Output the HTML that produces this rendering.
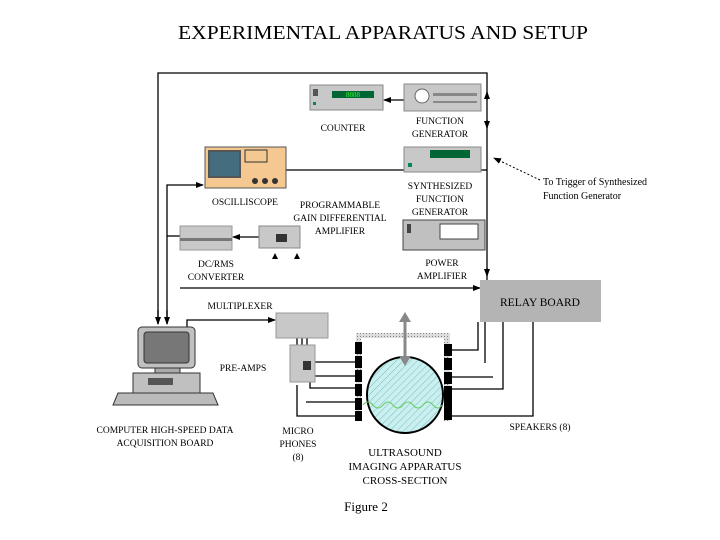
<!DOCTYPE html>
<html><head><meta charset="utf-8"><style>
html,body{margin:0;padding:0;background:#fff;}
svg{display:block;}
text{font-family:"Liberation Serif",serif;fill:#000;}
.s{font-size:9.5px;}
</style></head><body>
<svg width="720" height="540" viewBox="0 0 720 540" xmlns="http://www.w3.org/2000/svg">
<defs>
<marker id="a" markerWidth="8" markerHeight="8" refX="7" refY="4" orient="auto" markerUnits="userSpaceOnUse"><path d="M0,1 L8,4 L0,7 z" fill="#000"/></marker>
<pattern id="h" width="5" height="5" patternUnits="userSpaceOnUse" patternTransform="rotate(45)"><rect width="5" height="5" fill="#c8f0f0"/><line x1="0" y1="0" x2="0" y2="5" stroke="#7aa" stroke-width="0.8"/></pattern>
<pattern id="st" width="3" height="3" patternUnits="userSpaceOnUse"><rect width="3" height="3" fill="#ddd"/><rect width="1" height="1" fill="#888"/></pattern>
</defs>
<text x="383" y="39" text-anchor="middle" font-size="20" textLength="410" lengthAdjust="spacingAndGlyphs">EXPERIMENTAL APPARATUS AND SETUP</text>

<g stroke="#000" stroke-width="1.3" fill="none">
<polyline points="158,324 158,73 487,73 487,290"/>
<polyline points="167,324 167,185 203,185" marker-end="url(#a)"/>
<line x1="167" y1="236" x2="180" y2="236"/>
<line x1="404" y1="100" x2="384" y2="100" marker-end="url(#a)"/>
<line x1="286" y1="170" x2="404" y2="170"/>
<line x1="487" y1="170" x2="481" y2="170"/>
<line x1="259" y1="237" x2="233" y2="237" marker-end="url(#a)"/>
<line x1="180" y1="288" x2="480" y2="288" marker-end="url(#a)"/>
<line x1="158" y1="310" x2="158" y2="324" marker-end="url(#a)"/>
<line x1="167" y1="310" x2="167" y2="324" marker-end="url(#a)"/>
<polyline points="187,327 187,320 275,320" marker-end="url(#a)"/>
<line x1="487" y1="100" x2="487" y2="92" marker-end="url(#a)"/>
<line x1="487" y1="120" x2="487" y2="128" marker-end="url(#a)"/>
<line x1="487" y1="268" x2="487" y2="276" marker-end="url(#a)"/>
<line x1="297" y1="338" x2="297" y2="345"/><line x1="302" y1="338" x2="302" y2="345"/><line x1="307" y1="338" x2="307" y2="345"/>
<line x1="315" y1="362" x2="356" y2="362"/>
<line x1="315" y1="376" x2="356" y2="376"/>
<polyline points="310,382 310,388 356,388"/>
<line x1="306" y1="402" x2="356" y2="402"/>
<polyline points="297,385 297,416 356,416"/>
<polyline points="452,350 478,350 478,322"/>
<line x1="485" y1="322" x2="485" y2="363"/>
<line x1="452" y1="377" x2="493" y2="377"/>
<polyline points="452,389 503,389 503,322"/>
<polyline points="452,416 533,416 533,322"/>
</g>
<line x1="540" y1="180" x2="494" y2="158" stroke="#000" stroke-dasharray="2,2" marker-end="url(#a)"/>

<rect x="310" y="85" width="73" height="25" fill="#c8c8c8" stroke="#888"/>
<rect x="313" y="89" width="5" height="7" fill="#555"/><rect x="313" y="102" width="3" height="3" fill="#085"/>
<rect x="332" y="91" width="42" height="7" fill="#063"/><text x="353" y="97" font-size="7" text-anchor="middle" style="fill:#3f3">8888</text>
<rect x="404" y="84" width="77" height="27" fill="#c8c8c8" stroke="#888"/>
<circle cx="422" cy="96" r="7" fill="#fff" stroke="#666"/>
<rect x="433" y="93" width="44" height="3" fill="#888"/><rect x="433" y="101" width="44" height="2" fill="#888"/>
<rect x="205" y="147" width="81" height="41" fill="#f4c890" stroke="#555"/>
<rect x="208" y="150" width="33" height="28" fill="#555"/>
<rect x="210" y="152" width="29" height="24" fill="#38a" opacity="0.5"/>
<rect x="245" y="150" width="22" height="12" fill="none" stroke="#333"/>
<circle cx="255" cy="181" r="3" fill="#333"/><circle cx="265" cy="181" r="3" fill="#333"/><circle cx="275" cy="181" r="3" fill="#333"/>
<rect x="404" y="147" width="77" height="25" fill="#c8c8c8" stroke="#888"/>
<rect x="430" y="150" width="40" height="8" fill="#063"/><rect x="408" y="163" width="4" height="4" fill="#085"/>
<rect x="403" y="220" width="82" height="30" fill="#c0c0c0" stroke="#444"/>
<rect x="407" y="224" width="4" height="9" fill="#444"/>
<rect x="440" y="224" width="38" height="15" fill="#fff" stroke="#444"/>
<rect x="259" y="226" width="41" height="22" fill="#c8c8c8" stroke="#888"/>
<rect x="276" y="234" width="11" height="8" fill="#333"/>
<path d="M275,253 l-3,6 h6z M297,253 l-3,6 h6z" fill="#000"/>
<rect x="180" y="226" width="52" height="24" fill="#c8c8c8" stroke="#999"/>
<rect x="180" y="238" width="52" height="3" fill="#777"/>
<rect x="480" y="280" width="121" height="42" fill="#b4b4b4"/>
<text x="540" y="306" text-anchor="middle" font-size="11.5">RELAY BOARD</text>
<rect x="138" y="327" width="57" height="41" rx="4" fill="#c0c0c0" stroke="#333"/>
<rect x="144" y="332" width="45" height="31" rx="3" fill="#777" stroke="#333"/>
<rect x="155" y="368" width="25" height="5" fill="#aaa" stroke="#333"/>
<rect x="133" y="373" width="67" height="20" fill="#c0c0c0" stroke="#333"/>
<rect x="148" y="378" width="25" height="7" fill="#555"/>
<path d="M118,393 L213,393 L218,405 L113,405 z" fill="#bbb" stroke="#333"/>
<rect x="276" y="313" width="52" height="25" fill="#c8c8c8" stroke="#999"/>
<rect x="290" y="345" width="25" height="37" fill="#c8c8c8" stroke="#999"/>
<rect x="303" y="361" width="8" height="9" fill="#333"/>
<rect x="356" y="333" width="94" height="5" fill="url(#st)"/>
<rect x="356" y="333" width="5" height="88" fill="url(#st)"/>
<rect x="444" y="333" width="6" height="88" fill="url(#st)"/>
<g fill="#000">
<rect x="355" y="342" width="7" height="12"/><rect x="355" y="356" width="7" height="12"/><rect x="355" y="370" width="7" height="12"/><rect x="355" y="384" width="7" height="12"/><rect x="355" y="398" width="7" height="12"/><rect x="355" y="411" width="7" height="10"/>
<rect x="444" y="344" width="8" height="12"/><rect x="444" y="358" width="8" height="12"/><rect x="444" y="372" width="8" height="12"/><rect x="444" y="386" width="8" height="12"/><rect x="444" y="398" width="8" height="12"/><rect x="444" y="410" width="8" height="10"/>
</g>
<circle cx="405" cy="395" r="38" fill="url(#h)" stroke="#000" stroke-width="2"/>
<path d="M363,405 q5,-6 10,0 t10,0 t10,0 t10,0 t10,0 t10,0 t10,0 t9,0" stroke="#6c6" fill="none"/>
<line x1="405" y1="318" x2="405" y2="360" stroke="#888" stroke-width="3"/>
<path d="M399,322 L405,312 L411,322z M399,356 L405,366 L411,356z" fill="#888"/>

<g class="s" text-anchor="middle">
<text x="343" y="131">COUNTER</text>
<text x="440" y="124">FUNCTION</text><text x="440" y="137">GENERATOR</text>
<text x="245" y="205">OSCILLISCOPE</text>
<text x="440" y="189">SYNTHESIZED</text><text x="440" y="202">FUNCTION</text><text x="440" y="215">GENERATOR</text>
<text x="340" y="208">PROGRAMMABLE</text><text x="340" y="221">GAIN DIFFERENTIAL</text><text x="340" y="234">AMPLIFIER</text>
<text x="216" y="267">DC/RMS</text><text x="216" y="280">CONVERTER</text>
<text x="442" y="266">POWER</text><text x="442" y="279">AMPLIFIER</text>
<text x="240" y="309">MULTIPLEXER</text>
<text x="243" y="371">PRE-AMPS</text>
<text x="165" y="433">COMPUTER HIGH-SPEED DATA</text><text x="165" y="446">ACQUISITION BOARD</text>
<text x="298" y="434">MICRO</text><text x="298" y="447">PHONES</text><text x="298" y="460">(8)</text>
<text x="540" y="430">SPEAKERS (8)</text>
<text x="405" y="456" font-size="11">ULTRASOUND</text><text x="405" y="470" font-size="11">IMAGING APPARATUS</text><text x="405" y="484" font-size="11">CROSS-SECTION</text>
<text x="366" y="511" font-size="13">Figure 2</text>
</g>
<text x="543" y="185" font-size="10">To Trigger of Synthesized</text>
<text x="543" y="199" font-size="10">Function Generator</text>
</svg>
</body></html>
